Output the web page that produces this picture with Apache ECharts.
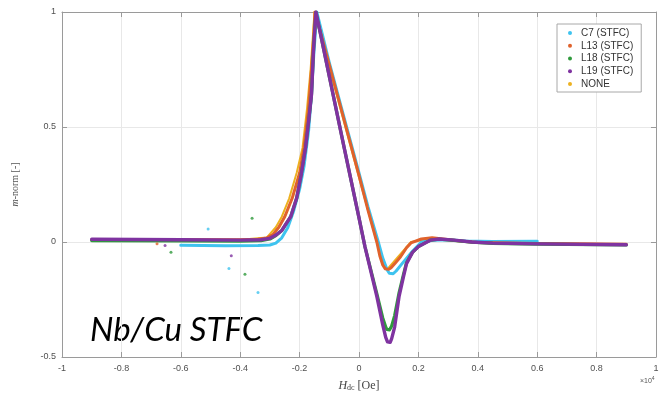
<!DOCTYPE html>
<html>
<head>
<meta charset="utf-8">
<script src="https://cdn.jsdelivr.net/npm/echarts@6/dist/echarts.min.js"></script>
<style>
  html, body { margin: 0; padding: 0; background: #fff; }
  #chart { width: 669px; height: 397px; }
</style>
</head>
<body>
<div id="chart"></div>
<script>
// H_dc in units of 1e4 Oe, m-norm
const xTicks = [-1, -0.8, -0.6, -0.4, -0.2, 0, 0.2, 0.4, 0.6, 0.8, 1]
const yTicks = [-0.5, 0, 0.5, 1]

const seriesNames = ['C7 (STFC)', 'L13 (STFC)', 'L18 (STFC)', 'L19 (STFC)', 'NONE']

const c7 = [
  [-0.60, -0.014], [-0.45, -0.016], [-0.34, -0.015], [-0.30, -0.013], [-0.28, -0.005],
  [-0.26, 0.018], [-0.24, 0.062], [-0.22, 0.135], [-0.20, 0.23], [-0.185, 0.33],
  [-0.17, 0.48], [-0.16, 0.64], [-0.152, 0.82], [-0.142, 1.0], [-0.10, 0.78],
  [-0.05, 0.54], [0.0, 0.30], [0.03, 0.155], [0.065, 0.0], [0.08, -0.07],
  [0.095, -0.122], [0.102, -0.136], [0.108, -0.14], [0.115, -0.138], [0.125, -0.126],
  [0.145, -0.094], [0.18, -0.04], [0.21, 0.0], [0.25, 0.008], [0.30, 0.01],
  [0.36, 0.004], [0.45, 0.002], [0.60, 0.003],
]
const l13 = [
  [-0.90, 0.010], [-0.60, 0.010], [-0.40, 0.010], [-0.34, 0.012], [-0.31, 0.018],
  [-0.29, 0.032], [-0.27, 0.064], [-0.25, 0.11], [-0.225, 0.19], [-0.20, 0.30],
  [-0.185, 0.41], [-0.17, 0.58], [-0.16, 0.75], [-0.152, 0.90], [-0.148, 1.0],
  [-0.10, 0.77], [-0.05, 0.53], [0.0, 0.29], [0.03, 0.14], [0.06, 0.0],
  [0.07, -0.06], [0.08, -0.10], [0.088, -0.116], [0.094, -0.12], [0.10, -0.119],
  [0.108, -0.112], [0.12, -0.095], [0.14, -0.064], [0.16, -0.025], [0.175, -0.004],
  [0.21, 0.013], [0.246, 0.018], [0.29, 0.012], [0.34, 0.004], [0.40, -0.002],
  [0.60, -0.006], [0.90, -0.010],
]
const l18 = [
  [-0.90, 0.006], [-0.60, 0.005], [-0.40, 0.004], [-0.33, 0.006], [-0.30, 0.013],
  [-0.28, 0.028], [-0.26, 0.05], [-0.23, 0.11], [-0.21, 0.19], [-0.195, 0.29],
  [-0.18, 0.41], [-0.17, 0.52], [-0.16, 0.64], [-0.153, 0.84], [-0.145, 1.0],
  [-0.10, 0.72], [-0.05, 0.41], [0.0, 0.105], [0.02, -0.02], [0.06, -0.225],
  [0.08, -0.33], [0.09, -0.37], [0.094, -0.38], [0.098, -0.385], [0.103, -0.382],
  [0.11, -0.365], [0.12, -0.32], [0.135, -0.22], [0.15, -0.14], [0.16, -0.09],
  [0.18, -0.045], [0.20, -0.02], [0.24, 0.008], [0.27, 0.012], [0.32, 0.007],
  [0.38, -0.001], [0.45, -0.006], [0.60, -0.009], [0.90, -0.013],
]
const l19 = [
  [-0.90, 0.012], [-0.60, 0.010], [-0.40, 0.008], [-0.33, 0.010], [-0.30, 0.016],
  [-0.28, 0.03], [-0.26, 0.05], [-0.23, 0.11], [-0.21, 0.19], [-0.195, 0.29],
  [-0.18, 0.41], [-0.17, 0.52], [-0.16, 0.64], [-0.153, 0.84], [-0.145, 1.0],
  [-0.10, 0.72], [-0.05, 0.41], [0.0, 0.105], [0.02, -0.02], [0.06, -0.236],
  [0.08, -0.36], [0.09, -0.415], [0.096, -0.434], [0.10, -0.44], [0.105, -0.436],
  [0.11, -0.42], [0.12, -0.37], [0.135, -0.236], [0.15, -0.15], [0.16, -0.094],
  [0.18, -0.045], [0.20, -0.02], [0.24, 0.008], [0.27, 0.013], [0.32, 0.008],
  [0.38, 0.0], [0.45, -0.005], [0.60, -0.008], [0.90, -0.012],
]
const none = [
  [-0.90, 0.010], [-0.40, 0.010], [-0.31, 0.02], [-0.28, 0.064], [-0.26, 0.11],
  [-0.235, 0.19], [-0.21, 0.30], [-0.19, 0.41], [-0.175, 0.58], [-0.163, 0.75],
  [-0.155, 0.90], [-0.15, 1.0], [-0.10, 0.76], [-0.05, 0.52], [0.0, 0.28],
  [0.06, 0.0], [0.094, -0.12], [0.175, 0.0], [0.246, 0.017], [0.40, -0.002],
  [0.90, -0.010],
]

// stray points in the flat region
const c7Stray = [[-0.508, 0.056], [-0.438, -0.115], [-0.34, -0.22]]
const l13Stray = [[-0.68, -0.008]]
const l18Stray = [[-0.633, -0.045], [-0.384, -0.14], [-0.36, 0.103]]
const l19Stray = [[-0.653, -0.015], [-0.43, -0.06]]

const colors = ['#3ec3ef', '#e0622c', '#2f9a3c', '#7f33a0', '#edb120']

const chart = echarts.init(document.getElementById('chart'), null, { renderer: 'canvas' })

const axisGray = '#9a9a9a'
const labelGray = '#505050'

function lineSeries(i, data, z, width) {
  return {
    name: seriesNames[i],
    type: 'line',
    data,
    showSymbol: false,
    z,
    lineStyle: { color: colors[i], width, join: 'round', cap: 'round' },
    itemStyle: { color: colors[i] },
  }
}
function strays(i, data, z) {
  return {
    name: seriesNames[i],
    type: 'scatter',
    data,
    symbolSize: 3,
    z,
    itemStyle: { color: colors[i], opacity: 0.8 },
  }
}

chart.setOption({
  animation: false,
  color: colors,
  textStyle: { fontFamily: 'Liberation Sans' },
  grid: { left: 62, right: 13, top: 12, bottom: 35 },
  legend: {
    data: seriesNames,
    orient: 'vertical',
    left: 557,
    top: 24,
    icon: 'circle',
    itemWidth: 12,
    itemHeight: 4,
    itemGap: 2.75,
    padding: [4, 8, 3, 11],
    borderColor: '#a8a8a8',
    borderWidth: 1,
    backgroundColor: '#fff',
    textStyle: { fontSize: 10, color: '#333', lineHeight: 10, fontFamily: 'Liberation Sans' },
  },
  xAxis: [
    {
      type: 'value',
      min: xTicks[0],
      max: xTicks[xTicks.length - 1],
      interval: 0.2,
      name: '{i|H}{s|dc} [Oe]',
      nameLocation: 'middle',
      nameGap: 22,
      nameTextStyle: {
        fontFamily: 'Liberation Serif',
        fontSize: 12,
        color: '#444',
        rich: {
          i: { fontFamily: 'Liberation Serif', fontStyle: 'italic', fontSize: 12, color: '#444' },
          s: { fontFamily: 'Liberation Serif', fontSize: 8, color: '#444', padding: [5, 0, 0, 0] },
        },
      },
      axisLine: { onZero: false, lineStyle: { color: axisGray, width: 1 } },
      axisTick: { inside: true, length: 5, lineStyle: { color: axisGray } },
      axisLabel: {
        color: labelGray,
        fontSize: 9,
        margin: 7,
        formatter: (v) => String(+v.toFixed(1)),
      },
      splitLine: { show: true, lineStyle: { color: '#e8e8e8' } },
    },
    {
      type: 'value',
      position: 'top',
      min: xTicks[0],
      max: xTicks[xTicks.length - 1],
      interval: 0.2,
      axisLine: { onZero: false, lineStyle: { color: axisGray, width: 1 } },
      axisTick: { inside: true, length: 5, lineStyle: { color: axisGray } },
      axisLabel: { show: false },
      splitLine: { show: false },
    },
  ],
  yAxis: [
    {
      type: 'value',
      min: yTicks[0],
      max: yTicks[yTicks.length - 1],
      interval: 0.5,
      name: '{i|m}-norm [-]',
      nameLocation: 'middle',
      nameGap: 42,
      nameTextStyle: {
        fontFamily: 'Liberation Serif',
        fontSize: 10,
        color: '#555',
        rich: {
          i: { fontFamily: 'Liberation Serif', fontStyle: 'italic', fontSize: 10, color: '#555' },
        },
      },
      axisLine: { show: true, onZero: false, lineStyle: { color: axisGray, width: 1 } },
      axisTick: { show: true, inside: true, length: 5, lineStyle: { color: axisGray } },
      axisLabel: {
        color: labelGray,
        fontSize: 9,
        margin: 6,
        formatter: (v) => String(+v.toFixed(1)),
      },
      splitLine: { show: true, lineStyle: { color: '#e8e8e8' } },
    },
    {
      type: 'value',
      position: 'right',
      min: yTicks[0],
      max: yTicks[yTicks.length - 1],
      interval: 0.5,
      axisLine: { show: true, onZero: false, lineStyle: { color: axisGray, width: 1 } },
      axisTick: { show: true, inside: true, length: 5, lineStyle: { color: axisGray } },
      axisLabel: { show: false },
      splitLine: { show: false },
    },
  ],
  graphic: [
    {
      type: 'text',
      left: 90,
      top: 314,
      style: {
        text: 'Nb/Cu STFC',
        font: 'italic 33px Lato',
        fill: '#000',
      },
    },
    {
      type: 'text',
      left: 640,
      top: 376,
      style: {
        text: '{a|×10}{b|4}',
        rich: {
          a: { fontSize: 7, fill: '#555', fontFamily: 'Liberation Sans' },
          b: { fontSize: 5, fill: '#555', fontFamily: 'Liberation Sans', padding: [0, 0, 5, 0] },
        },
      },
    },
  ],
  series: [
    lineSeries(4, none, 1, 2),
    lineSeries(0, c7, 2, 3),
    lineSeries(1, l13, 3, 3),
    lineSeries(2, l18, 4, 3.2),
    lineSeries(3, l19, 5, 3.4),
    strays(0, c7Stray, 6),
    strays(1, l13Stray, 6),
    strays(2, l18Stray, 6),
    strays(3, l19Stray, 6),
  ],
})
</script>
</body>
</html>
